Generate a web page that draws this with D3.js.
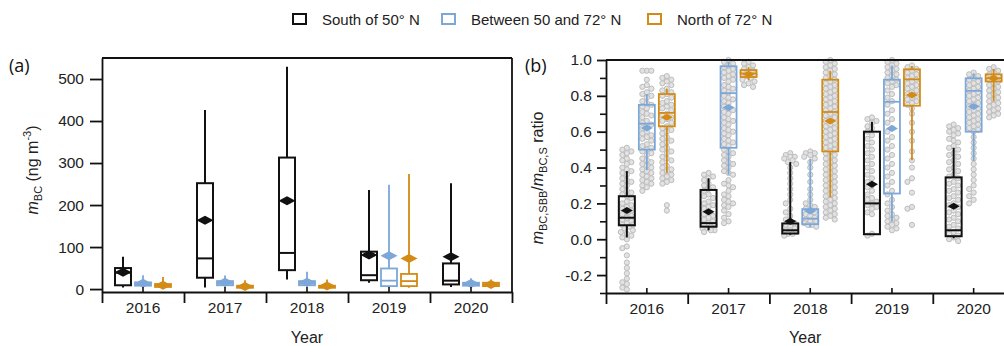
<!DOCTYPE html>
<html>
<head>
<meta charset="utf-8">
<script src="https://cdn.jsdelivr.net/npm/d3@7"></script>
<style>
  body { margin: 0; background: #fff; }
  svg { display: block; font-family: "Liberation Sans", Arial, sans-serif; }
</style>
</head>
<body>
<div id="chart"></div>
<script>
const years = ["2016", "2017", "2018", "2019", "2020"];
const series = ["south", "between", "north"];
const seriesLabels = ["South of 50° N", "Between 50 and 72° N", "North of 72° N"];
const seriesColors = ["#111111", "#7ca7d8", "#d38b15"];

// panel (a), m_BC in ng m-3: [low whisker, q1, median, q3, high whisker, mean] per year
const aSouth   = [[4, 9, 39, 50, 77, 40], [4, 27, 73, 252, 426, 164], [23, 45, 86, 313, 529, 210], [15, 21, 33, 89, 236, 81], [5, 11, 20, 61, 252, 77]];
const aBetween = [[4, 8, 11, 16, 33, 14], [4, 9, 13, 19, 32, 16], [5, 9, 13, 19, 41, 16], [3, 7, 20, 49, 248, 79], [4, 8, 11, 15, 26, 13]];
const aNorth   = [[2, 5, 8, 12, 29, 9], [2, 3, 5, 8, 21, 6], [2, 3, 5, 8, 23, 7], [3, 7, 19, 36, 274, 73], [4, 7, 10, 15, 23, 11]];

// panel (b), SBB ratio
const bSouth   = [[0.01, 0.078, 0.12, 0.24, 0.38, 0.16], [0.05, 0.07, 0.09, 0.275, 0.34, 0.153], [0.025, 0.032, 0.05, 0.088, 0.43, 0.10], [0.028, 0.028, 0.20, 0.60, 0.655, 0.307], [0.005, 0.017, 0.05, 0.345, 0.51, 0.184]];
const bBetween = [[0.385, 0.50, 0.645, 0.75, 0.81, 0.62], [0.36, 0.51, 0.815, 0.965, 0.99, 0.735], [0.065, 0.084, 0.115, 0.168, 0.45, 0.158], [0.10, 0.255, 0.767, 0.89, 0.97, 0.618], [0.437, 0.60, 0.828, 0.898, 0.925, 0.74]];
const bNorth   = [[0.37, 0.63, 0.705, 0.81, 0.84, 0.68], [0.888, 0.905, 0.925, 0.944, 0.96, 0.92], [0.233, 0.49, 0.71, 0.89, 0.94, 0.66], [0.44, 0.745, 0.892, 0.948, 0.966, 0.805], [0.77, 0.88, 0.898, 0.92, 0.95, 0.898]];

// individual ratio samples behind the boxes of panel (b), in percent, one list per year
const ptsSouth = [
  [51,50,49,48,47,45,44,43,42,40,39,38,37,36,34,33,32,31,30,28,27,26,25,24,23,21,20,19,18,17,16,15,14,13,12,11,10,9,8,8,7,6,5,4,3,2,1,0,-4,-5,-9,-13,-16,-19,-22,-24,-25,-27,-28],
  [37,36,35,34,33,31,30,29,28,27,25,24,23,21,20,19,18,17,15,14,13,12,11,10,9,8,8,7,6,6,5,5,4],
  [48,47,46,46,45,44,43,42,40,37,34,31,28,25,22,20,17,15,13,11,10,9,8,7,6,5,5,4,3,3,2],
  [68,67,66,65,63,62,60,58,56,54,52,50,48,46,44,42,40,38,36,34,32,30,29,27,25,23,22,21,20,19,18,17,15,14,3,2],
  [64,63,62,61,60,59,58,56,55,54,52,51,50,48,47,46,44,43,42,40,39,38,36,35,34,32,31,30,28,27,26,24,23,22,20,19,18,16,15,14,12,11,10,8,7,6,4,3,2,1,0,-1]
];
const ptsBetween = [
  [94,94,94,89,86,85,84,82,81,80,79,77,76,75,74,73,71,70,69,68,66,65,64,63,62,60,59,58,57,56,55,53,52,51,50,49,48,47,45,44,43,42,41,40,39,38,37,36,35,34,33,32,31,30,29,27],
  [100,99,98,97,96,95,94,93,92,91,90,89,88,86,85,84,83,82,80,79,78,77,76,74,73,72,71,70,68,67,66,65,64,62,61,60,59,58,56,55,54,53,52,50,49,48,47,46,44,43,42,41,40,38,37,36,33,31,30,29,27,25,24,22,21,20,19,18,16,14,12,10,9],
  [49,48,48,47,46,45,43,40,36,32,28,25,22,20,19,18,17,16,15,14,13,12,11,10,10,9,8,8,7],
  [100,99,98,97,96,95,94,93,92,91,90,89,88,87,86,85,83,81,79,77,75,72,70,67,65,62,60,57,55,52,50,47,45,42,40,37,35,32,30,27,25,22,20,18,16,14,13,12,11,10,9,8,7,6,5],
  [93,92,91,90,89,88,87,86,85,84,83,82,81,80,79,78,77,76,75,74,73,72,71,70,69,68,67,66,65,64,63,62,61,60,57,54,51,48,45,42,39,36,33,30,28,26,24,22,20]
];
const ptsNorth = [
  [91,90,89,88,87,86,84,83,82,81,80,79,77,76,75,74,73,72,70,69,68,67,66,65,63,62,61,60,59,57,56,55,54,53,51,50,49,48,46,45,44,43,41,40,39,38,37,36,35,34,33,32,31,19,16],
  [99,98,97,96,95,94,93,93,92,91,90,89,88,87,86,85],
  [100,99,98,97,96,95,94,93,92,91,90,89,88,87,86,85,84,83,82,81,80,79,78,77,76,75,74,73,72,71,70,69,68,67,66,65,64,63,62,61,60,59,58,57,56,55,54,53,52,51,50,49,48,47,46,45,44,43,42,41,40,39,38,37,36,35,34,33,32,31,30,29,28,27,26,25,24,23,22,21,20,19,18,17,16,15,14,13,12,11],
  [97,96,95,94,93,92,91,90,89,88,87,86,85,84,83,82,81,80,79,78,77,76,75,73,70,65,60,55,49,44,40,34,32,26,18,17,8],
  [96,95,94,93,92,91,90,89,88,87,86,85,84,83,82,81,80,79,78,77,76,75,74,73,72,71,70,69,68]
];

const aTicks = [0, 100, 200, 300, 400, 500];
const bTicks = [-0.2, 0, 0.2, 0.4, 0.6, 0.8, 1.0];
const bMinorTicks = [-0.3, -0.1, 0.1, 0.3, 0.5, 0.7, 0.9];

const width = 1004, height = 346;
const axisColor = "#111";

const svg = d3.select("#chart").append("svg")
  .attr("width", width)
  .attr("height", height);

svg.append("rect").attr("width", width).attr("height", height).attr("fill", "#fff");

// legend
const legendX = [293, 442, 648];
const legend = svg.append("g");
series.forEach((s, i) => {
  legend.append("rect")
    .attr("x", legendX[i]).attr("y", 14)
    .attr("width", 13).attr("height", 10)
    .attr("fill", "none")
    .attr("stroke", seriesColors[i])
    .attr("stroke-width", 2);
  legend.append("text")
    .attr("x", legendX[i] + 29).attr("y", 25)
    .attr("font-size", 15)
    .attr("fill", "#222")
    .text(seriesLabels[i]);
});

// simple deterministic beeswarm for the gray samples
function swarm(pys) {
  const cand = [0, -4.5, 4.5, -2.3, 2.3, -6, 6];
  const placed = [];
  pys.slice().sort((a, b) => a - b).forEach(py => {
    let best = 0, bestD = -1;
    for (const dx of cand) {
      let minD = Infinity;
      for (const p of placed) {
        if (Math.abs(p.y - py) < 6) minD = Math.min(minD, Math.hypot(p.x - dx, p.y - py));
      }
      if (minD >= 4.4) { best = dx; bestD = minD; break; }
      if (minD > bestD) { bestD = minD; best = dx; }
    }
    placed.push({ x: best, y: py });
  });
  return placed;
}

function drawPanel(cfg) {
  const g = svg.append("g");
  const x = d3.scaleBand().domain(years).range([cfg.left, cfg.right]);
  const inner = d3.scaleBand().domain(series).range([-30, 30]);
  const y = cfg.y;
  const [yBottom, yTop] = y.range();
  const cx = (yr, s) => x(yr) + x.bandwidth() / 2 + inner(s) + inner.bandwidth() / 2;

  // gray samples
  if (cfg.points) {
    series.forEach((s, si) => {
      years.forEach((yr, yi) => {
        const pts = swarm(cfg.points[si][yi].map(v => y(v / 100)));
        g.append("g").selectAll("circle")
          .data(pts)
          .enter()
          .append("circle")
          .attr("cx", d => cx(yr, s) + d.x)
          .attr("cy", d => d.y)
          .attr("r", 2.6)
          .attr("fill", "#e2e2e2")
          .attr("stroke", "#bdbdbd")
          .attr("stroke-width", 1);
      });
    });
  }

  // boxes
  const bw = 16;
  series.forEach((s, si) => {
    const color = seriesColors[si];
    const sw = si === 0 ? 2 : 1.8;
    const bg = g.append("g").attr("stroke", color).attr("stroke-width", sw);
    cfg.stats[si].forEach((d, yi) => {
      const c = cx(years[yi], s);
      const [lo, q1, med, q3, hi, mean] = d;
      bg.append("line").attr("x1", c).attr("x2", c).attr("y1", y(hi)).attr("y2", y(q3));
      bg.append("line").attr("x1", c).attr("x2", c).attr("y1", y(q1)).attr("y2", y(lo));
      bg.append("rect")
        .attr("x", c - bw / 2).attr("width", bw)
        .attr("y", y(q3)).attr("height", Math.max(y(q1) - y(q3), 1))
        .attr("fill", "none");
      bg.append("line").attr("x1", c - bw / 2).attr("x2", c + bw / 2).attr("y1", y(med)).attr("y2", y(med));
      const my = y(mean), dw = cfg.diamond[0] / 2, dh = cfg.diamond[1] / 2;
      bg.append("path")
        .attr("d", `M${c - dw},${my}L${c},${my - dh}L${c + dw},${my}L${c},${my + dh}Z`)
        .attr("fill", color)
        .attr("stroke", "none");
    });
  });

  // left axis
  const yAxis = g.append("g")
    .attr("transform", `translate(${cfg.left},0)`)
    .call(d3.axisLeft(y).tickValues(cfg.ticks).tickSize(cfg.tickLen).tickPadding(cfg.tickPad).tickSizeOuter(0)
      .tickFormat(cfg.format));
  yAxis.selectAll("text").attr("font-size", 15.5).attr("fill", "#222").attr("font-family", null);
  yAxis.selectAll("line,path").attr("stroke", axisColor).attr("stroke-width", 1.8);

  if (cfg.minor) {
    g.append("g")
      .attr("transform", `translate(${cfg.left},0)`)
      .call(d3.axisLeft(y).tickValues(cfg.minor).tickSize(6).tickFormat("").tickSizeOuter(0))
      .call(a => a.select(".domain").remove())
      .selectAll("line").attr("stroke", axisColor).attr("stroke-width", 1.6);
  }

  // bottom axis: year labels with short inner ticks at the centers
  const xAxis = g.append("g")
    .attr("transform", `translate(0,${yBottom})`)
    .call(d3.axisBottom(x).tickSize(-5).tickPadding(10).tickSizeOuter(0));
  xAxis.select(".domain").attr("stroke", axisColor).attr("stroke-width", 1.8);
  xAxis.selectAll(".tick line").attr("stroke", axisColor).attr("stroke-width", 1.6);
  xAxis.selectAll("text").attr("font-size", 15.5).attr("fill", "#222").attr("font-family", null);

  // boundary ticks between years
  const edges = d3.scaleLinear().domain([0, years.length]).range([cfg.left, cfg.right]);
  g.append("g")
    .attr("transform", `translate(0,${yBottom})`)
    .call(d3.axisBottom(edges).ticks(years.length).tickSize(11).tickFormat("").tickSizeOuter(0))
    .call(a => a.select(".domain").remove())
    .selectAll("line").attr("stroke", axisColor).attr("stroke-width", 1.8);

  // frame top and right
  g.append("line")
    .attr("x1", cfg.left).attr("x2", cfg.right)
    .attr("y1", yTop).attr("y2", yTop)
    .attr("stroke", axisColor).attr("stroke-width", 1.8);
  g.append("line")
    .attr("x1", cfg.right).attr("x2", cfg.right)
    .attr("y1", yTop).attr("y2", yBottom)
    .attr("stroke", axisColor).attr("stroke-width", 1.8);

  // x title
  g.append("text")
    .attr("x", (cfg.left + cfg.right) / 2 + (cfg.titleShift || 0)).attr("y", 343)
    .attr("text-anchor", "middle")
    .attr("font-size", 16)
    .attr("fill", "#222")
    .text("Year");

  // panel tag
  g.append("text")
    .attr("x", cfg.tagX).attr("y", 72)
    .attr("font-size", 18)
    .attr("font-family", "'Open Sans', sans-serif")
    .attr("fill", "#111")
    .text(cfg.tag);

  return g;
}

drawPanel({
  left: 102, right: 512,
  y: d3.scaleLinear().domain([-7, 550]).range([292, 58]),
  stats: [aSouth, aBetween, aNorth],
  ticks: aTicks, tickLen: 12, tickPad: 6, format: d3.format("d"),
  diamond: [17, 9],
  tag: "(a)", tagX: 9
});

drawPanel({
  left: 606, right: 1014.5,
  y: d3.scaleLinear().domain([-0.3, 1.0]).range([293, 60]),
  stats: [bSouth, bBetween, bNorth],
  points: [ptsSouth, ptsBetween, ptsNorth],
  ticks: bTicks, minor: bMinorTicks, tickLen: 9, tickPad: 5, format: d => d.toFixed(1),
  diamond: [12, 7],
  tag: "(b)", tagX: 525, titleShift: -5
});

// y titles
const yTitleA = svg.append("text")
  .attr("transform", "translate(38,170) rotate(-90)")
  .attr("text-anchor", "middle")
  .attr("font-size", 16)
  .attr("fill", "#222");
yTitleA.append("tspan").attr("font-style", "italic").text("m");
yTitleA.append("tspan").attr("font-size", 11).attr("dy", 4).text("BC");
yTitleA.append("tspan").attr("dy", -4).text(" (ng m");
yTitleA.append("tspan").attr("font-size", 11).attr("dy", -7).text("-3");
yTitleA.append("tspan").attr("dy", 7).text(")");

const yTitleB = svg.append("text")
  .attr("transform", "translate(543,178) rotate(-90)")
  .attr("text-anchor", "middle")
  .attr("font-size", 16)
  .attr("fill", "#222");
yTitleB.append("tspan").attr("font-style", "italic").text("m");
yTitleB.append("tspan").attr("font-size", 11).attr("dy", 4).text("BC,SBB");
yTitleB.append("tspan").attr("dy", -4).text("/");
yTitleB.append("tspan").attr("font-style", "italic").text("m");
yTitleB.append("tspan").attr("font-size", 11).attr("dy", 4).text("BC,S");
yTitleB.append("tspan").attr("dy", -4).text(" ratio");
</script>
</body>
</html>
